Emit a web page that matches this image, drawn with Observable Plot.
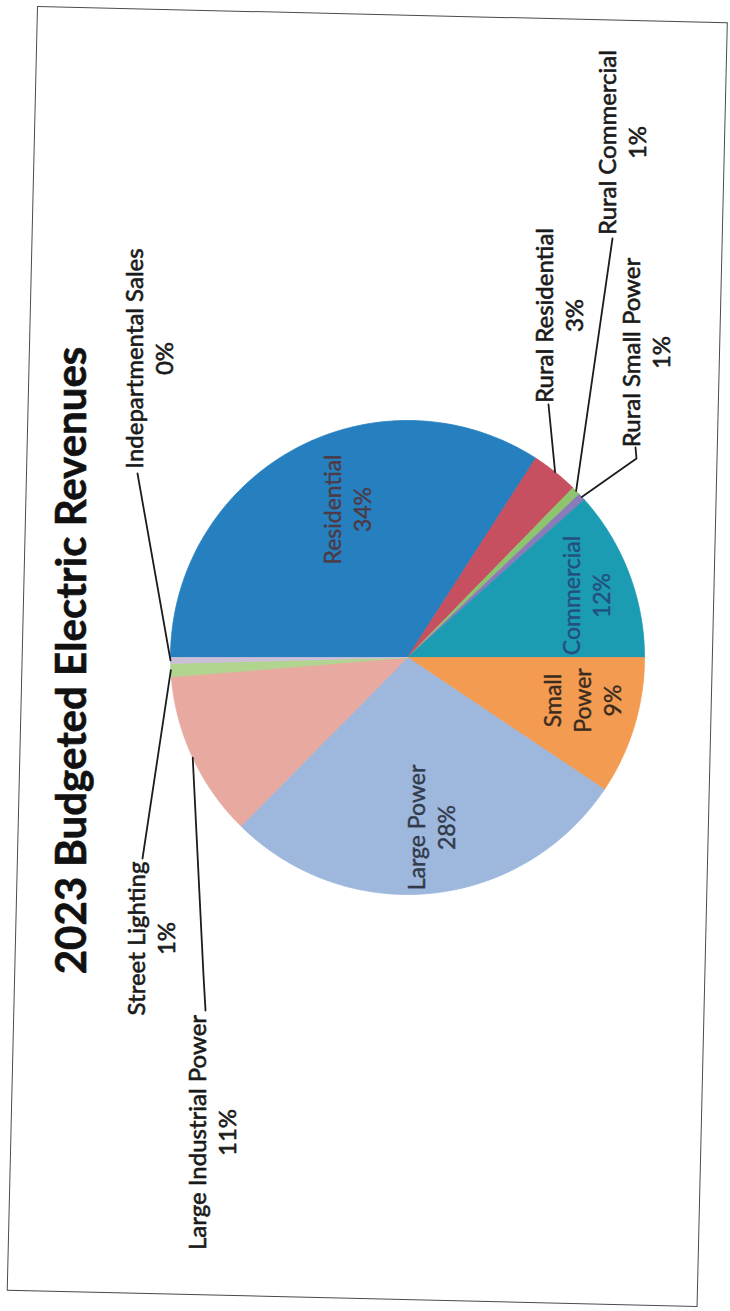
<!DOCTYPE html>
<html><head><meta charset="utf-8">
<script src="https://cdn.jsdelivr.net/npm/d3@7"></script>
<script src="https://cdn.jsdelivr.net/npm/@observablehq/plot@0.6"></script>
<style>
html,body{margin:0;padding:0;background:#fff;}
#wrap{position:relative;width:730px;height:1311px;overflow:hidden;background:#fff;}
#chart{position:absolute;left:0;top:0;}
#frame{position:absolute;left:37px;top:6px;width:691px;height:1285px;border:1.7px solid #4a4a4a;transform-origin:0 0;transform:rotate(1.35deg);box-sizing:border-box;pointer-events:none;}
</style></head><body>
<div id="wrap"><div id="chart"></div><div id="frame"></div></div>
<script>
// ---- data ----
const title = "2023 Budgeted Electric Revenues";
const categories = ["Residential","Rural Residential","Rural Commercial","Rural Small Power","Commercial","Small Power","Large Power","Large Industrial Power","Street Lighting","Indepartmental Sales"];
const shares = [34.1, 3.2, 0.6, 0.5, 11.6, 9.4, 28.0, 11.3, 0.9, 0.4];
const colors = ["#2680c0","#c64f60","#8fc46f","#8b7cb9","#1c9cb3","#f39b50","#9db8dc","#e8aaa0","#b1d48f","#cbbfd8"];

// ---- layout (pixels in the rotated page) ----
const CX = 407, CY = 657, R = 237, W = 730, H = 1311;
const ux = p => (p - CX) / R;
const uy = p => (CY - p) / R;
const labelLayout = {
  "Residential":            {x: 346, y: 509, inside: true,  color: "#4d3a44"},
  "Commercial":             {x: 585, y: 595, inside: true,  color: "#23507c"},
  "Small Power":            {x: 581, y: 700, inside: true,  color: "#3b2b1e", wrap: true},
  "Large Power":            {x: 430, y: 827, inside: true,  color: "#323a4a"},
  "Rural Residential":      {x: 558, y: 315},
  "Rural Commercial":       {x: 621, y: 142},
  "Rural Small Power":      {x: 645, y: 352},
  "Large Industrial Power": {x: 211, y: 1132},
  "Street Lighting":        {x: 150, y: 938},
  "Indepartmental Sales":   {x: 148, y: 358}
};
const leaderAnchors = {
  "Rural Residential": [[548, 404]],
  "Rural Commercial": [[612, 238]],
  "Rural Small Power": [[635, 447], [636, 458]],
  "Large Industrial Power": [[205, 1010], [203, 975]],
  "Street Lighting": [[142, 858]],
  "Indepartmental Sales": [[137, 473]]
};

// ---- geometry from data ----
const table = categories.map((name, i) => ({name, share: shares[i]}));
const arcs = d3.pie().sort(null).value(d => d.share).startAngle(0).endAngle(2 * Math.PI)(table);
// angle a: clockwise from the left (the chart is turned a quarter-turn)
const pt = (a, r = 1) => ({x: -Math.cos(a) * r, y: Math.sin(a) * r});
const slices = [];
for (const a of arcs) {
  const name = a.data.name;
  slices.push({name, ...pt(0, 0)});
  const n = Math.max(2, Math.ceil((a.endAngle - a.startAngle) / (Math.PI / 360)));
  for (let k = 0; k <= n; ++k) slices.push({name, ...pt(a.startAngle + (a.endAngle - a.startAngle) * k / n)});
  slices.push({name, ...pt(0, 0)});
}
const leaders = [];
for (const a of arcs) {
  const name = a.data.name, anc = leaderAnchors[name];
  if (!anc) continue;
  for (const [px, py] of anc) leaders.push({name, x: ux(px), y: uy(py)});
  leaders.push({name, ...pt((a.startAngle + a.endAngle) / 2, 1.0)});
}
const pct = v => Math.round(v) + "%";
const labels = arcs.map(a => {
  const name = a.data.name, L = labelLayout[name];
  const nm = L.wrap ? name.replace(" ", "\n") : name;
  return {name, text: nm + "\n" + pct(a.data.share), x: ux(L.x), y: uy(L.y), inside: !!L.inside, color: L.color || "#1a1a1a"};
});

const chart = Plot.plot({
  width: W, height: H,
  margin: 0,
  style: {background: "transparent"},
  x: {domain: [ux(0), ux(W)], axis: null},
  y: {domain: [uy(H), uy(0)], axis: null},
  color: {domain: categories, range: colors},
  marks: [
    Plot.line(slices, {x: "x", y: "y", z: "name", fill: "name", stroke: "name", strokeWidth: 0.8, curve: "linear"}),
    Plot.line(leaders, {x: "x", y: "y", z: "name", stroke: "#1c1c1c", strokeWidth: 1.8, curve: "linear"}),
    Plot.text(labels.filter(d => !d.inside), {x: "x", y: "y", text: "text", rotate: -90, fontSize: 24, fontFamily: "Lato", fill: "#1a1a1a", stroke: "#1a1a1a", strokeWidth: 0.6, lineHeight: 1.25}),
    Plot.text(labels.filter(d => d.inside), {x: "x", y: "y", text: "text", rotate: -90, fontSize: 23, fontFamily: "Lato", fill: d => d.color, stroke: d => d.color, strokeWidth: 0.4, lineHeight: 1.3}),
    Plot.text([title], {x: ux(72), y: uy(660), text: d => d, rotate: -90, fontSize: 42, fontWeight: "bold", fontFamily: "Lato", fill: "#111", stroke: "#111", strokeWidth: 0.6})
  ]
});
document.getElementById("chart").appendChild(chart);
</script>
</body></html>
